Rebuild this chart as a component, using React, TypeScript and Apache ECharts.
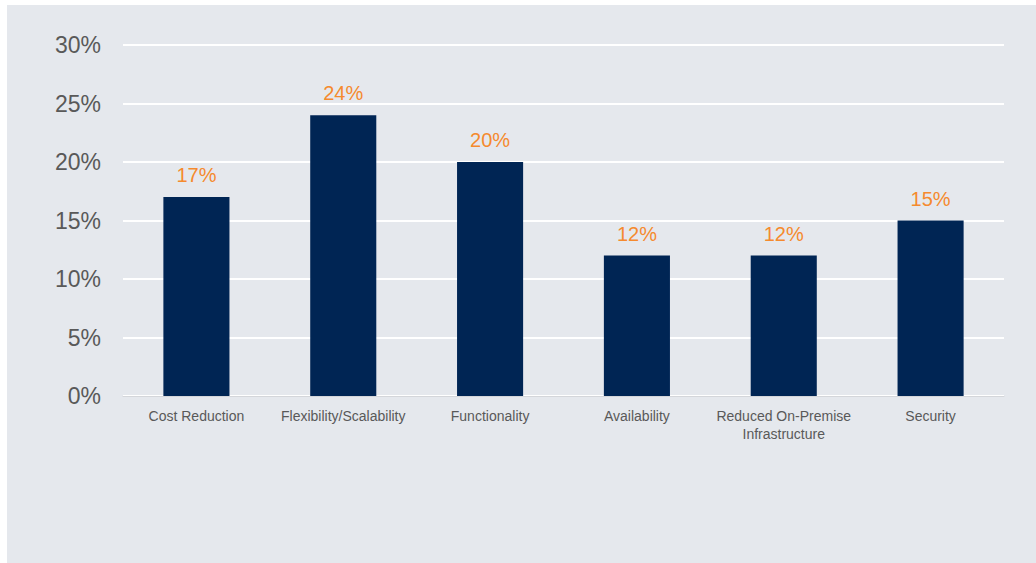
import React, { useEffect, useRef } from "react";
import * as echarts from "echarts";

const categories = [
  "Cost Reduction",
  "Flexibility/Scalability",
  "Functionality",
  "Availability",
  "Reduced On-Premise\nInfrastructure",
  "Security",
];
const values = [17, 24, 20, 12, 12, 15];
const yTicks = { min: 0, max: 30, interval: 5 };

export default function App() {
  const ref = useRef<HTMLDivElement>(null);
  useEffect(() => {
    if (!ref.current) return;
    const chart = echarts.init(ref.current, null, { renderer: "svg" });
    chart.setOption({
      animation: false,
      backgroundColor: "#E5E8ED",
      textStyle: { fontFamily: "Liberation Sans, Arial, sans-serif" },
      grid: { left: 116, right: 32, top: 40, bottom: 167, containLabel: false },
      xAxis: {
        type: "category",
        data: categories,
        axisLine: { show: true, lineStyle: { color: "#D4D6DA", width: 1 } },
        axisTick: { show: false },
        axisLabel: {
          color: "#595959",
          fontSize: 14,
          margin: 11,
          lineHeight: 18,
          interval: 0,
        },
      },
      yAxis: {
        type: "value",
        min: yTicks.min,
        max: yTicks.max,
        interval: yTicks.interval,
        axisLine: { show: false },
        axisTick: { show: false },
        splitLine: { lineStyle: { color: "#FFFFFF", width: 2 } },
        axisLabel: {
          color: "#595959",
          fontSize: 23,
          margin: 22,
          formatter: (v: number) => v + "%",
        },
      },
      series: [
        {
          type: "bar",
          data: values,
          barWidth: "45%",
          itemStyle: { color: "#002554" },
          label: {
            show: true,
            position: "top",
            distance: 12,
            color: "#F58A2E",
            fontSize: 20,
            formatter: (p: any) => p.value + "%",
          },
        },
      ],
    });
    return () => chart.dispose();
  }, []);
  return (
    <div
      ref={ref}
      style={{ position: "absolute", left: 7, top: 5, width: 1029, height: 558 }}
    />
  );
}
